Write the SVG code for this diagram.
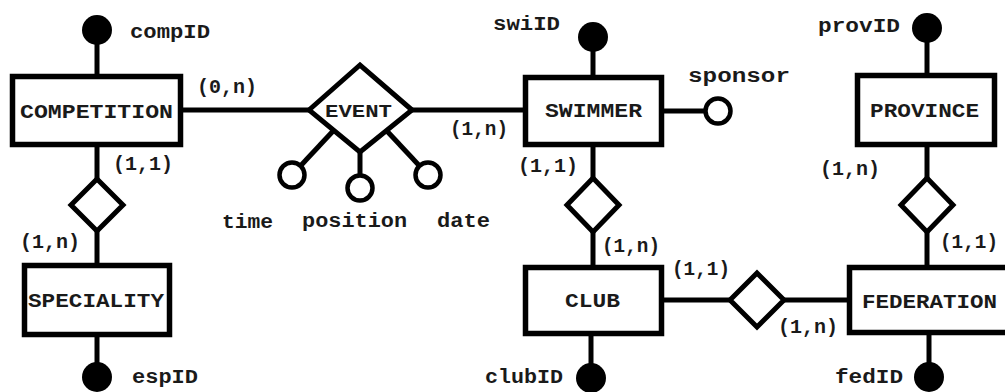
<svg xmlns="http://www.w3.org/2000/svg" width="1005" height="392" viewBox="0 0 1005 392">
<style>
.ln{stroke:#000;stroke-width:5;fill:none}
.ent{fill:#fff;stroke:#000;stroke-width:5.5}
.rel{fill:#fff;stroke:#000;stroke-width:5;stroke-linejoin:miter}
.key{fill:#000}
.att{fill:#fff;stroke:#000;stroke-width:4.5}
text{font-family:"Liberation Mono","DejaVu Sans Mono",monospace;font-weight:bold;font-size:20px;fill:#1a1a1a}
.nm{font-size:19px}
</style>
<rect width="1005" height="392" fill="#fff"/>
<g id="connectors">
<line class="ln" x1="97" y1="30" x2="97" y2="76"/>
<line class="ln" x1="183" y1="110" x2="309" y2="110"/>
<line class="ln" x1="412" y1="110" x2="523" y2="110"/>
<line class="ln" x1="97" y1="147" x2="97" y2="180"/>
<line class="ln" x1="97" y1="230" x2="97" y2="263"/>
<line class="ln" x1="97" y1="337" x2="97" y2="377"/>
<line class="ln" x1="593" y1="37" x2="593" y2="75"/>
<line class="ln" x1="664" y1="111" x2="706" y2="111"/>
<line class="ln" x1="593" y1="147" x2="593" y2="178"/>
<line class="ln" x1="593" y1="232" x2="593" y2="265"/>
<line class="ln" x1="591" y1="336" x2="591" y2="378"/>
<line class="ln" x1="664" y1="300" x2="730" y2="300"/>
<line class="ln" x1="784" y1="300" x2="847" y2="300"/>
<line class="ln" x1="927" y1="28" x2="927" y2="73"/>
<line class="ln" x1="927" y1="147" x2="927" y2="178"/>
<line class="ln" x1="927" y1="232" x2="927" y2="265"/>
<line class="ln" x1="929" y1="335" x2="929" y2="377"/>
<line class="ln" x1="334" y1="130" x2="292" y2="175"/>
<line class="ln" x1="360" y1="150" x2="360" y2="188"/>
<line class="ln" x1="386" y1="130" x2="428" y2="175"/>
</g>
<g id="competition">
<rect class="ent" x="12.5" y="76.5" width="168" height="68"/>
<text x="20" y="118" textLength="153" lengthAdjust="spacingAndGlyphs">COMPETITION</text>
<circle class="key" cx="97" cy="30" r="15"/>
<text x="130" y="38" textLength="80" lengthAdjust="spacingAndGlyphs">compID</text>
</g>
<g id="speciality">
<rect class="ent" x="24.5" y="265.5" width="145" height="69"/>
<text x="28" y="307" textLength="136" lengthAdjust="spacingAndGlyphs">SPECIALITY</text>
<circle class="key" cx="97" cy="377" r="15"/>
<text x="132" y="383" textLength="66" lengthAdjust="spacingAndGlyphs">espID</text>
</g>
<g id="swimmer">
<rect class="ent" x="525.5" y="77.5" width="136" height="67"/>
<text x="545" y="117" textLength="97" lengthAdjust="spacingAndGlyphs">SWIMMER</text>
<circle class="key" cx="593" cy="37" r="15"/>
<text x="493" y="30" textLength="67" lengthAdjust="spacingAndGlyphs">swiID</text>
<circle class="att" cx="718" cy="111" r="12.5"/>
<text x="688" y="82" textLength="102" lengthAdjust="spacingAndGlyphs">sponsor</text>
</g>
<g id="club">
<rect class="ent" x="525.5" y="267.5" width="136" height="66"/>
<text x="565" y="307" textLength="55" lengthAdjust="spacingAndGlyphs">CLUB</text>
<circle class="key" cx="591" cy="378" r="15"/>
<text x="485" y="383" textLength="78" lengthAdjust="spacingAndGlyphs">clubID</text>
</g>
<g id="province">
<rect class="ent" x="857.5" y="75.5" width="137" height="69"/>
<text x="870" y="117" textLength="109" lengthAdjust="spacingAndGlyphs">PROVINCE</text>
<circle class="key" cx="927" cy="28" r="15"/>
<text x="818" y="32" textLength="82" lengthAdjust="spacingAndGlyphs">provID</text>
</g>
<g id="federation">
<rect class="ent" x="849.5" y="267.5" width="170" height="65"/>
<text x="862" y="308" textLength="135" lengthAdjust="spacingAndGlyphs">FEDERATION</text>
<circle class="key" cx="929" cy="377" r="15"/>
<text x="835" y="383" textLength="68" lengthAdjust="spacingAndGlyphs">fedID</text>
</g>
<g id="event">
<polygon class="rel" points="309,110 360,65 412,110 360,152"/>
<text x="325" y="117" textLength="67" lengthAdjust="spacingAndGlyphs" class="nm">EVENT</text>
<circle class="att" cx="292" cy="175" r="12.5"/>
<circle class="att" cx="360" cy="188" r="12.5"/>
<circle class="att" cx="428" cy="175" r="12.5"/>
<text x="222" y="228" textLength="51" lengthAdjust="spacingAndGlyphs">time</text>
<text x="302" y="227" textLength="105" lengthAdjust="spacingAndGlyphs">position</text>
<text x="437" y="227" textLength="53" lengthAdjust="spacingAndGlyphs">date</text>
</g>
<g id="rel-comp-spec">
<polygon class="rel" points="71,205 97,179 123,205 97,231"/>
</g>
<g id="rel-swim-club">
<polygon class="rel" points="567,205 593,178 619,205 593,232"/>
</g>
<g id="rel-prov-fed">
<polygon class="rel" points="901,205 927,178 953,205 927,232"/>
</g>
<g id="rel-club-fed">
<polygon class="rel" points="730,300 757,273 784,300 757,327"/>
</g>
<g id="cardinalities">
<text x="197" y="93" textLength="60" lengthAdjust="spacingAndGlyphs">(0,n)</text>
<text x="113" y="170" textLength="60" lengthAdjust="spacingAndGlyphs">(1,1)</text>
<text x="20" y="248" textLength="60" lengthAdjust="spacingAndGlyphs">(1,n)</text>
<text x="450" y="135" textLength="58" lengthAdjust="spacingAndGlyphs">(1,n)</text>
<text x="518" y="172" textLength="60" lengthAdjust="spacingAndGlyphs">(1,1)</text>
<text x="602" y="252" textLength="58" lengthAdjust="spacingAndGlyphs">(1,n)</text>
<text x="672" y="275" textLength="58" lengthAdjust="spacingAndGlyphs">(1,1)</text>
<text x="820" y="175" textLength="60" lengthAdjust="spacingAndGlyphs">(1,n)</text>
<text x="940" y="248" textLength="58" lengthAdjust="spacingAndGlyphs">(1,1)</text>
<text x="778" y="333" textLength="60" lengthAdjust="spacingAndGlyphs">(1,n)</text>
</g>
</svg>
